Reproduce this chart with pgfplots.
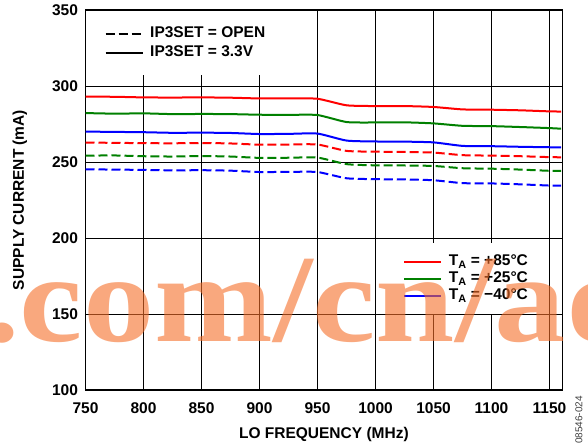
\documentclass[border=0pt]{standalone}
\usepackage{fontspec}
\setmainfont{Liberation Sans}
\newfontfamily\wmfont{Liberation Serif}
\usepackage{graphicx}
\usepackage{pgfplots}
\pgfplotsset{compat=1.18}

\definecolor{wmorange}{RGB}{245,110,40}
\definecolor{cgreen}{RGB}{0,128,0}
\newcommand{\lbl}{\fontsize{15.5bp}{18bp}\selectfont\bfseries}

% supply current (mA) vs LO frequency (MHz)
\pgfplotstableread{
f     r33    g33    b33    ropen  gopen  bopen
750   293.0  282.2  270.0  262.8  254.2  245.2
775   292.9  281.8  269.8  262.6  254.3  245.0
800   292.5  282.0  269.6  262.4  253.8  244.8
825   292.4  281.5  269.2  262.3  253.6  244.5
850   292.5  281.6  269.3  262.5  253.9  244.6
875   292.3  281.5  269.1  262.2  253.6  244.3
900   291.8  281.1  268.4  261.4  252.7  243.4
925   291.8  281.0  268.5  261.5  252.8  243.5
950   291.6  280.9  268.7  261.5  252.9  243.4
975   287.3  276.3  264.1  257.3  248.6  239.3
1000  286.8  276.0  263.5  256.8  247.8  238.7
1025  286.8  276.1  263.4  256.6  247.7  238.5
1050  286.2  275.4  262.9  256.2  247.4  238.0
1075  284.6  273.8  260.6  254.5  245.9  236.1
1100  284.4  273.6  260.4  254.2  245.6  235.9
1125  284.0  273.0  260.0  253.8  245.0  235.3
1150  283.3  272.3  259.7  253.2  244.2  234.5
1160  283.2  271.9  259.6  253.1  244.1  234.4
}\datatable

\begin{document}
\begin{tikzpicture}
\useasboundingbox (0bp,0bp) rectangle (588bp,448bp);
\begin{axis}[
  at={(85.5bp,58bp)}, anchor=south west,
  scale only axis, width=476.8bp, height=380bp,
  xmin=750, xmax=1161, ymin=100, ymax=350,
  xtick={750,800,...,1150}, ytick={100,150,...,350},
  grid=major, major grid style={black, line width=0.9bp},
  axis line style={line width=1.6bp},
  major tick length=0pt,
  tick label style={font=\lbl},
  /pgf/number format/assume math mode=true,
  /pgf/number format/1000 sep={},
  xticklabel style={yshift=-9bp},
  yticklabel style={xshift=-4bp},
  xlabel={LO FREQUENCY (MHz)},
  ylabel={SUPPLY CURRENT (mA)},
  every axis x label/.style={at={(axis description cs:0.5,-0.1184)}, anchor=center, font=\lbl},
  every axis y label/.style={at={(axis description cs:-0.1374,0.5)}, anchor=center, rotate=90, font=\lbl},
  legend style={at={(axis description cs:0.6493,0.3868)}, anchor=north west,
    draw=none, fill=white, inner xsep=8bp, inner ysep=10bp, font=\lbl,
    row sep=0bp, nodes={inner sep=1.5bp, text height=11bp, text depth=3bp},
    /tikz/every odd column/.append style={column sep=5bp}},
  legend cell align=left,
  legend image code/.code={\draw[#1] (0bp,0bp) -- (37bp,0bp);},
  every axis plot/.append style={line width=2bp, smooth, tension=0.35},
]
\addplot[red] table[x=f, y=r33] {\datatable};
\addplot[cgreen] table[x=f, y=g33] {\datatable};
\addplot[blue] table[x=f, y=b33] {\datatable};
\addplot[red, dash pattern=on 9bp off 4bp, forget plot] table[x=f, y=ropen] {\datatable};
\addplot[cgreen, dash pattern=on 9bp off 4bp, forget plot] table[x=f, y=gopen] {\datatable};
\addplot[blue, dash pattern=on 9bp off 4bp, forget plot] table[x=f, y=bopen] {\datatable};
\legend{T\textsubscript{A} = +85°C, T\textsubscript{A} = +25°C, T\textsubscript{A} = −40°C}
\end{axis}

\begin{axis}[
  at={(85.5bp,58bp)}, anchor=south west,
  scale only axis, width=476.8bp, height=380bp,
  xmin=750, xmax=1161, ymin=100, ymax=350,
  hide axis,
  legend style={at={(axis description cs:0.0021,0.9974)}, anchor=north west,
    draw=none, fill=white, inner xsep=18bp, inner ysep=14bp, font=\lbl,
    row sep=2bp, nodes={inner sep=1.5bp, text height=11bp, text depth=3bp},
    /tikz/every odd column/.append style={column sep=5bp}},
  legend cell align=left,
  legend image code/.code={\draw[#1] (0bp,0bp) -- (37bp,0bp);},
]
\addlegendimage{black, line width=2bp, dash pattern=on 9bp off 4bp}
\addlegendentry{IP3SET = OPEN}
\addlegendimage{black, line width=2bp}
\addlegendentry{IP3SET = 3.3V}
\end{axis}

\node[rotate=90, font=\fontsize{10bp}{12bp}\selectfont, text=black!75] at (579bp,28bp) {08546-024};

\begin{scope}
\clip (0bp,0bp) rectangle (588bp,448bp);
\node[anchor=base west, inner sep=0pt, text=wmorange, opacity=0.6] at (-16bp,106bp)
  {\scalebox{1.14}[1]{\wmfont\bfseries\fontsize{125bp}{125bp}\selectfont .com/cn/ad}};
\end{scope}
\end{tikzpicture}
\end{document}
